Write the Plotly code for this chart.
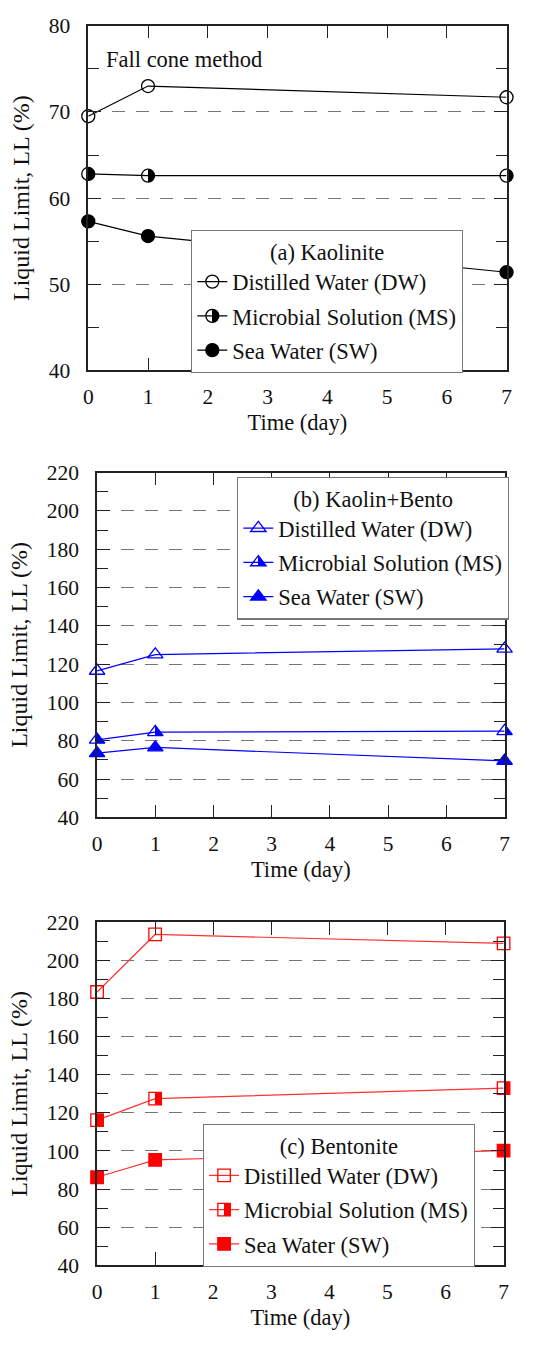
import plotly.graph_objects as go

# ---------------- data ----------------
days = [0, 1, 7]

# (a) Kaolinite
kao_dw = [69.5, 73.0, 71.7]
kao_ms = [62.8, 62.6, 62.6]
kao_sw = [57.3, 55.6, 51.4]

# (b) Kaolin+Bento
kb_dw = [116.5, 125.0, 128.0]
kb_ms = [80.5, 84.5, 85.0]
kb_sw = [73.5, 76.5, 69.5]

# (c) Bentonite
ben_dw = [183.5, 213.7, 209.0]
ben_ms = [116.2, 127.5, 133.0]
ben_sw = [86.2, 95.3, 100.2]

series_names = ["Distilled Water (DW)", "Microbial Solution (MS)", "Sea Water (SW)"]
panel_titles = ["(a) Kaolinite", "(b) Kaolin+Bento", "(c) Bentonite"]
x_ticks = [0, 1, 2, 3, 4, 5, 6, 7]

FONT = "Liberation Serif"
W, H = 538, 1347

fig = go.Figure()

def px_x(a, b):
    return [a / W, b / W]

def px_y(top, bottom):
    return [1 - bottom / H, 1 - top / H]

panels = [
    dict(vals=[kao_dw, kao_ms, kao_sw], color="#000000",
         symbols=["circle-open", "circle", "circle"], size=13,
         xdom=px_x(85, 512), ydom=px_y(15, 366), yr=[40, 80], dtick=10, minor=5,
         legend="legend"),
    dict(vals=[kb_dw, kb_ms, kb_sw], color="#0000ff",
         symbols=["triangle-up-open", "triangle-up", "triangle-up"], size=13.5,
         xdom=px_x(94, 510), ydom=px_y(470, 821), yr=[40, 220], dtick=20, minor=10,
         legend="legend2"),
    dict(vals=[ben_dw, ben_ms, ben_sw], color="#ff0000",
         symbols=["square-open", "square", "square"], size=12.5,
         xdom=px_x(94, 509), ydom=px_y(928, 1277), yr=[40, 220], dtick=20, minor=10,
         legend="legend3"),
]

for i, p in enumerate(panels):
    xa = "x" if i == 0 else f"x{i+1}"
    ya = "y" if i == 0 else f"y{i+1}"
    line_color = p["color"] if i != 2 else "#ff3030"
    for j, (vals, name, sym) in enumerate(zip(p["vals"], series_names, p["symbols"])):
        marker = dict(symbol=sym, size=p["size"], color=p["color"],
                      line=dict(color=p["color"], width=1.3))
        if j == 1:
            # half-filled marker (right half filled)
            marker["color"] = "rgba(255,255,255,0)"
            marker["gradient"] = dict(type="horizontal", color=p["color"])
        fig.add_trace(go.Scatter(
            x=days, y=vals, name=name, mode="lines+markers",
            line=dict(color=line_color, width=1.2),
            marker=marker, xaxis=xa, yaxis=ya, cliponaxis=False,
            legend=p["legend"], legendgroup=f"g{i}{j}", showlegend=True,
        ))

axis_common = dict(
    showline=True, linecolor="#222", linewidth=1.5, mirror="ticks",
    ticks="inside", ticklen=13, tickwidth=1.3, tickcolor="#222",
    tickfont=dict(family=FONT, size=21.5, color="#111"),
    zeroline=False,
)

layout = dict(
    width=W, height=H, margin=dict(l=0, r=0, t=0, b=0),
    paper_bgcolor="white", plot_bgcolor="white", showlegend=True,
    font=dict(family=FONT, color="#111"),
)

for i, p in enumerate(panels):
    xk = "xaxis" if i == 0 else f"xaxis{i+1}"
    yk = "yaxis" if i == 0 else f"yaxis{i+1}"
    ya = "y" if i == 0 else f"y{i+1}"
    xa = "x" if i == 0 else f"x{i+1}"
    layout[xk] = dict(axis_common, domain=p["xdom"], range=[0, 7], anchor=ya,
                      tickmode="array", tickvals=x_ticks, showgrid=False,
                      ticklabelstandoff=6,
                      title=dict(text="Time (day)", font=dict(family=FONT, size=22.5, color="#111"),
                                 standoff=6))
    layout[yk] = dict(axis_common, domain=p["ydom"], range=p["yr"], anchor=xa,
                      dtick=p["dtick"], tick0=40, showgrid=True, gridcolor="#777",
                      griddash="13px,11px", gridwidth=1.1,
                      minor=dict(ticks="inside", ticklen=11, tickwidth=1.3, tickcolor="#222",
                                 dtick=p["minor"], showgrid=False),
                      ticklabelstandoff=12,
                      title=dict(text="Liquid Limit, LL (%)",
                                 font=dict(family=FONT, size=24, color="#111"), standoff=12))

legend_pos = [(190, 223), (237, 474), (202, 1133)]
for i, (lx, ly) in enumerate(legend_pos):
    key = "legend" if i == 0 else f"legend{i+1}"
    layout[key] = dict(
        x=lx / W, y=1 - ly / H, xanchor="left", yanchor="top",
        xref="paper", yref="paper",
        bgcolor="white", bordercolor="#777", borderwidth=1.2,
        font=dict(family=FONT, size=22.5, color="#111"),
        title=dict(text=panel_titles[i], side="top center",
                   font=dict(family=FONT, size=22.5, color="#111")),
        tracegroupgap=2, itemwidth=30,
    )

fig.update_layout(**layout)

fig.add_annotation(text="Fall cone method", x=0.26, y=76.1, xref="x", yref="y",
                   xanchor="left", yanchor="middle", showarrow=False,
                   font=dict(family=FONT, size=22.5, color="#111"))

post_script = """
(function(){
  var ns = 'http://www.w3.org/2000/svg';
  document.querySelectorAll('linearGradient').forEach(function(g){
    var stops = Array.prototype.slice.call(g.querySelectorAll('stop'));
    if (stops.length !== 2) return;
    stops.sort(function(a, b){ return parseFloat(a.getAttribute('offset')) - parseFloat(b.getAttribute('offset')); });
    var info = stops.map(function(s){ return [s.getAttribute('stop-color'), s.getAttribute('stop-opacity')]; });
    stops.forEach(function(s){ g.removeChild(s); });
    [[0, info[0]], [50, info[0]], [50, info[1]], [100, info[1]]].forEach(function(d){
      var s = document.createElementNS(ns, 'stop');
      s.setAttribute('offset', d[0] + '%');
      s.setAttribute('stop-color', d[1][0]);
      if (d[1][1] !== null) s.setAttribute('stop-opacity', d[1][1]);
      g.appendChild(s);
    });
  });
})();
"""

fig.write_html("out.html", post_script=post_script)
